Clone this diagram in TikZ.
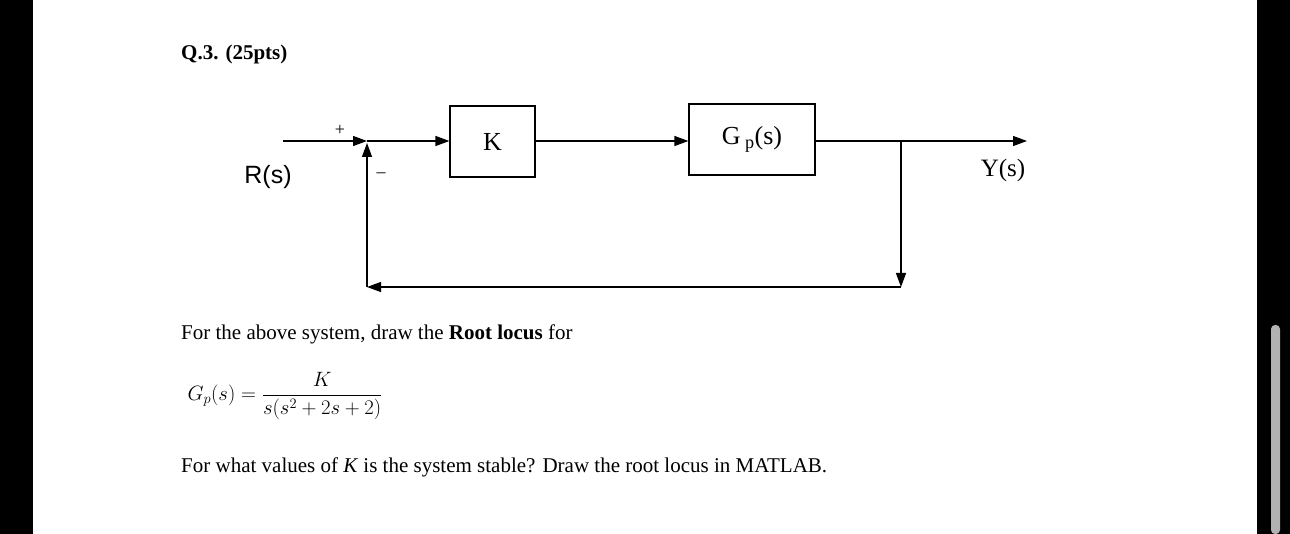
\documentclass[tikz,border=0pt]{standalone}
\usepackage{fontspec}
\setmainfont{Liberation Serif}
\newfontfamily\mysans{Liberation Sans}
\usetikzlibrary{arrows.meta}
\begin{document}
\begin{tikzpicture}[x=1pt,y=-1pt,
  blk/.style={draw,line width=1.2pt,minimum width=85pt,minimum height=71pt,inner sep=0,font=\fontsize{26}{26}\selectfont},
  sig/.style={line width=1.2pt,-{Triangle[length=14pt,width=10pt]}},
  ln/.style={line width=1.2pt},
  txt/.style={anchor=base west,inner sep=0,font=\fontsize{21}{21}\selectfont}]
\useasboundingbox (0,0) rectangle (1290,534);
\fill[white] (0,0) rectangle (1290,534);
\fill[black] (0,0) rectangle (33,534);
\fill[black] (1257,0) rectangle (1290,534);
\fill[gray!60,rounded corners=4pt] (1271,325) rectangle (1280,534);
\node[txt,font=\bfseries\fontsize{21}{21}\selectfont] (q) at (181,60) {Q.3. (25pts)};
\node[blk] (K) at (492.5,141.5) {K};
\node[blk,minimum width=126pt] (G) at (752,139.5) {G\,$_{\mathrm{p}}$(s)};
\coordinate (in) at (283,141);
\coordinate (sum) at (367,141);
\coordinate (br) at (901,141);
\coordinate (out) at (1027,141);
\coordinate (fb1) at (901,287);
\coordinate (fb2) at (367,287);
\coordinate (sumb) at (367,143);
\draw[sig] (in) -- (sum);
\draw[sig] (sum) -- (K.west|-sum);
\draw[sig] (K.east|-sum) -- (G.west|-sum);
\draw[sig] (G.east|-sum) -- (out);
\draw[sig] (br) -- (fb1);
\draw[sig] (fb1) -- (fb2);
\draw[sig] (fb2) -- (sumb);
\node[inner sep=0,font=\mysans\fontsize{25}{25}\selectfont] (R) at (268,177) {R(s)};
\node[inner sep=0,font=\fontsize{25}{25}\selectfont] (Y) at (1003,170) {Y(s)};
\node[inner sep=0,font=\fontsize{18}{18}\selectfont] (plus) at (340,130) {+};
\node[inner sep=0,font=\fontsize{18}{18}\selectfont] (minus) at (381,175) {--};
\node[txt] (t1) at (181,340) {For the above system, draw the \textbf{Root locus} for};
\node[inner sep=0,font=\fontsize{20}{20}\selectfont] (f) at (285,396) {$\displaystyle G_p(s)=\frac{K}{s(s^2+2s+2)}$};
\node[txt] (t2) at (181,472) {For what values of \textit{K} is the system stable? Draw the root locus in MATLAB.};
\end{tikzpicture}
\end{document}
